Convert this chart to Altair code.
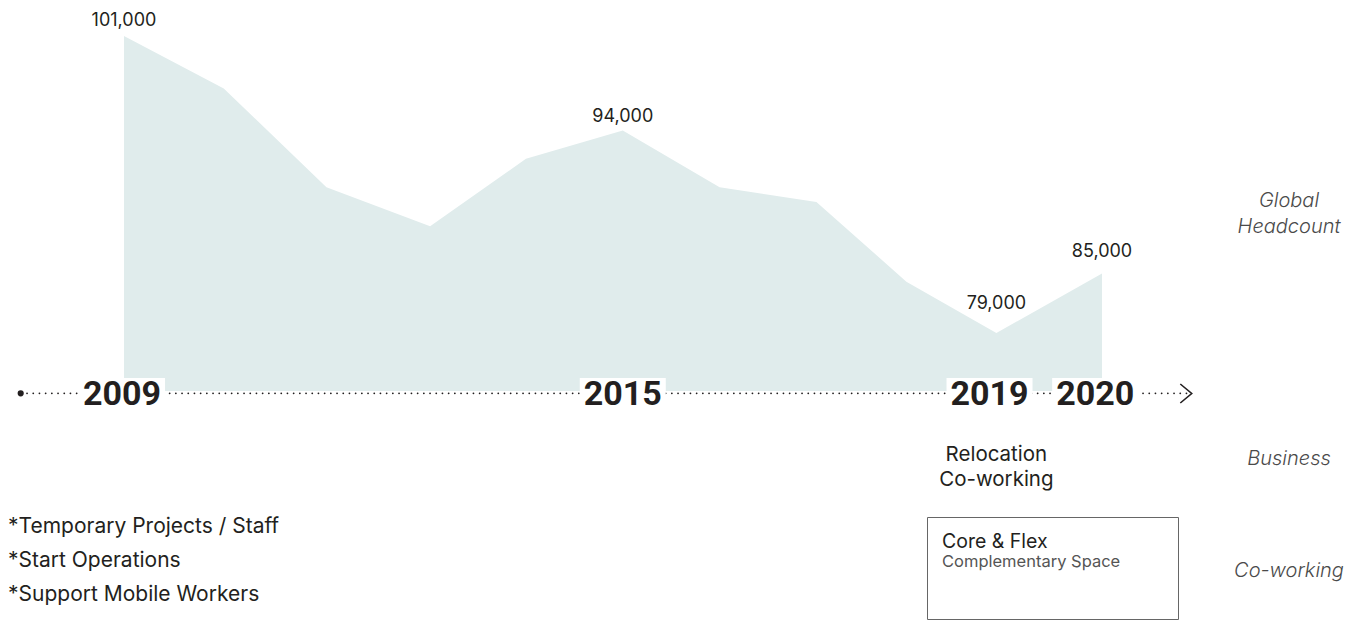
import altair as alt
import pandas as pd

# ---------------- data ----------------
steps = [0, 1.02, 2.07, 3.13, 4.11, 5.1, 6.09, 7.08, 8.0, 8.92, 10.0]
headcount = [101000, 97100, 89800, 86900, 91900, 94000, 89800, 88700, 82800, 79000, 83400]

year_labels = ["2009", "2015", "2019", "2020"]
year_steps = [-0.02, 5.1, 8.85, 9.93]

value_labels = ["101,000", "94,000", "79,000", "85,000"]
value_points = [0, 5, 9, 10]

row_titles = [["Global", "Headcount"], ["Business"], ["Co-working"]]
business_lines = ["Relocation", "Co-working"]
cowork_title = "Core & Flex"
cowork_sub = "Complementary Space"
notes = ["*Temporary Projects / Staff", "*Start Operations", "*Support Mobile Workers"]

# ---------------- layout ----------------
W, H = 1348, 612
X0, PX = 116.0, 97.8          # pixel of step 0, pixels per step
BASE, PXV = 74700, 0.0135     # value at baseline, pixels per unit
BASE_Y = 383                  # baseline pixel
x_dom = [-X0 / PX, (W - X0) / PX]
y_dom = [BASE - (H - BASE_Y) / PXV, BASE + BASE_Y / PXV]
xs = alt.Scale(domain=x_dom, nice=False, zero=False)
ys = alt.Scale(domain=y_dom, nice=False, zero=False)

DARK = "#231f20"
ITAL = "#4a4a4a"


def xpix(step):
    return X0 + PX * step


def label(text, x, y, align="center", size=20, color=DARK, font="Inter",
          weight="normal", style="normal"):
    return alt.Chart(pd.DataFrame({"t": [text]})).mark_text(
        align=align, baseline="alphabetic", fontSize=size, color=color,
        font=font, fontWeight=weight, fontStyle=style
    ).encode(x=alt.value(x), y=alt.value(y), text="t:N")


one = pd.DataFrame({"a": [0]})

df = pd.DataFrame({"step": steps, "headcount": headcount})
df["base"] = BASE

area = alt.Chart(df).mark_area(color="#e0ecec", opacity=1).encode(
    x=alt.X("step:Q", scale=xs, axis=None),
    y=alt.Y("headcount:Q", scale=ys, axis=None),
    y2=alt.Y2("base"),
)

axis_line = alt.Chart(one).mark_rule(
    color=DARK, strokeWidth=1.7, strokeDash=[0.1, 6.1], strokeCap="round"
).encode(x=alt.value(19), x2=alt.value(1183), y=alt.value(385.3))

start_dot = alt.Chart(one).mark_point(
    shape="circle", filled=True, size=38, color=DARK, opacity=1
).encode(x=alt.value(12.7), y=alt.value(385.3))

arrow = alt.Chart(one).mark_point(
    shape="M-0.6,-1L0.6,0L-0.6,1", filled=False, size=361, strokeWidth=1.6,
    color=DARK, opacity=1
).encode(x=alt.value(1178), y=alt.value(385.5))

ydf = pd.DataFrame({"step": year_steps, "year": year_labels})
boxes = alt.Chart(ydf).mark_rect(color="white", opacity=1, xOffset=-43, x2Offset=43).encode(
    x=alt.X("step:Q", scale=xs, axis=None), x2=alt.X2("step"),
    y=alt.value(370), y2=alt.value(404),
)
years = alt.Chart(ydf).mark_text(
    font="Roboto", fontWeight="bold", fontSize=34, color=DARK,
    baseline="alphabetic", align="center"
).encode(x=alt.X("step:Q", scale=xs, axis=None), y=alt.value(397), text="year:N")

layers = [area, axis_line, start_dot, arrow, boxes, years]

# value labels above selected points
dys = [-10, -8.5, -24, -16.5]
for lab, idx, dy in zip(value_labels, value_points, dys):
    vdf = pd.DataFrame({"step": [steps[idx]], "headcount": [headcount[idx]], "t": [lab]})
    layers.append(
        alt.Chart(vdf).mark_text(
            font="Inter", fontSize=18, color=DARK, baseline="alphabetic",
            align="center", dy=dy
        ).encode(
            x=alt.X("step:Q", scale=xs, axis=None),
            y=alt.Y("headcount:Q", scale=ys, axis=None),
            text="t:N",
        )
    )

# right-hand row titles
row_baselines = [199, 457, 569]
for lines, yb in zip(row_titles, row_baselines):
    for i, line in enumerate(lines):
        layers.append(label(line, 1281, yb + 26 * i, size=20, color=ITAL,
                            weight=300, style="italic"))

# business annotation under 2019
bx = xpix(steps[9])
for i, line in enumerate(business_lines):
    layers.append(label(line, bx, 453 + 25 * i, size=20.5))

# co-working box
layers.append(
    alt.Chart(one).mark_rect(fill="white", fillOpacity=0, stroke="#666666", strokeWidth=1).encode(
        x=alt.value(919.5), x2=alt.value(1170.5), y=alt.value(509.5), y2=alt.value(611.5)
    )
)
layers.append(label(cowork_title, 934, 540, align="left", size=19.5))
layers.append(label(cowork_sub, 934, 559, align="left", size=16.5, color="#555555"))

# notes bottom-left
for i, n in enumerate(notes):
    layers.append(label(n, 0, 525 + 34 * i, align="left", size=21))

chart = alt.layer(*layers).properties(
    width=W, height=H, padding=0,
    autosize=alt.AutoSizeParams(type="none"),
    background="white",
).configure_view(stroke=None)

chart.save("out.html", embed_options={"renderer": "svg", "actions": False})
